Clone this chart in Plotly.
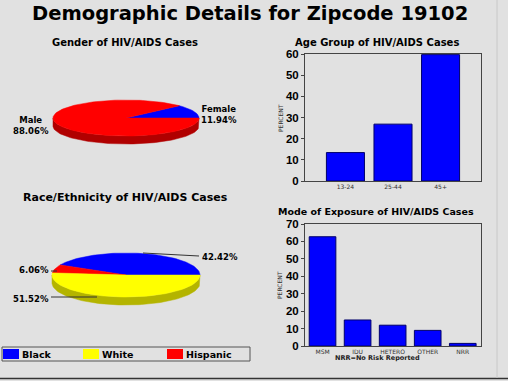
import math
import plotly.graph_objects as go

# ---------------- data ----------------
gender_labels = ["Female", "Male"]
gender_values = [11.94, 88.06]

race_labels = ["Black", "White", "Hispanic"]
race_values = [42.42, 51.52, 6.06]

age_groups = ["13-24", "25-44", "45+"]
age_values = [13.43, 26.87, 59.70]

exposure_modes = ["MSM", "IDU", "HETERO", "OTHER", "NRR"]
exposure_values = [62.69, 14.93, 11.94, 8.96, 1.49]

# ---------------- styles ----------------
W, H = 508, 381
BG = "#e1e1e1"
FONT = "DejaVu Sans"
FONT2 = "Liberation Sans"
colors = {"Female": "#0000ff", "Male": "#ff0000",
          "Black": "#0000ff", "White": "#ffff00", "Hispanic": "#ff0000"}
side_colors = {"Female": "#00009a", "Male": "#b00000",
               "Black": "#00009a", "White": "#b4b400", "Hispanic": "#b00000"}

fig = go.Figure()


def px_x(x):
    return x / W


def px_y(y):
    return 1 - y / H


def pie3d(labels, values, order, cx, cy, rx, ry, depth):
    """Draw a tilted pie on the pixel axes (xaxis3/yaxis3) from the data."""
    total = sum(values)
    vals = dict(zip(labels, values))
    start = 0.0
    wedges = []
    for lab in order:
        sweep = 360.0 * vals[lab] / total
        wedges.append((lab, start, start + sweep))
        start += sweep
    # sides (visible for the lower half: angles 180..360)
    for lab, a0, a1 in wedges:
        lo, hi = max(a0, 180.0), min(a1, 360.0)
        if hi <= lo:
            continue
        n = max(4, int((hi - lo) / 2))
        angs = [lo + (hi - lo) * i / n for i in range(n + 1)]
        xs = [cx + rx * math.cos(math.radians(a)) for a in angs]
        ys = [cy - ry * math.sin(math.radians(a)) for a in angs]
        xs2 = xs[::-1]
        ys2 = [y + depth for y in ys[::-1]]
        fig.add_trace(go.Scatter(x=xs + xs2 + [xs[0]], y=ys + ys2 + [ys[0]],
                                 mode="lines", fill="toself",
                                 fillcolor=side_colors[lab],
                                 line=dict(color=side_colors[lab], width=0.5),
                                 xaxis="x3", yaxis="y3", hoverinfo="skip",
                                 showlegend=False))
    # top faces
    for lab, a0, a1 in wedges:
        n = max(4, int((a1 - a0) / 2))
        angs = [a0 + (a1 - a0) * i / n for i in range(n + 1)]
        xs = [cx] + [cx + rx * math.cos(math.radians(a)) for a in angs] + [cx]
        ys = [cy] + [cy - ry * math.sin(math.radians(a)) for a in angs] + [cy]
        fig.add_trace(go.Scatter(x=xs, y=ys, mode="lines", fill="toself",
                                 fillcolor=colors[lab],
                                 line=dict(color=colors[lab], width=0.5),
                                 xaxis="x3", yaxis="y3", name=lab,
                                 hoverinfo="name", showlegend=False))


pie3d(gender_labels, gender_values, ["Female", "Male"], 126, 118, 73, 18, 8)
pie3d(race_labels, race_values, ["Black", "Hispanic", "White"], 126, 275, 74, 22, 8)

# ---------------- bars ----------------
bar_marker = dict(color="#0000ff", line=dict(color="#00006a", width=1))
fig.add_trace(go.Bar(x=age_groups, y=age_values, xaxis="x", yaxis="y",
                     marker=bar_marker, width=0.8, showlegend=False))
fig.add_trace(go.Bar(x=exposure_modes, y=exposure_values, xaxis="x2", yaxis="y2",
                     marker=bar_marker, width=0.76, showlegend=False))

ax_common = dict(showline=True, linecolor="#444444", linewidth=1, mirror=True,
                 showgrid=False, zeroline=False, fixedrange=True, automargin=False)
ytick_font = dict(family=FONT2, size=11.5, color="#000000", weight="bold")
xtick_font = dict(family=FONT, size=6, color="#333333")

fig.update_layout(
    width=W, height=H,
    margin=dict(l=0, r=0, t=0, b=0, pad=0),
    paper_bgcolor=BG, plot_bgcolor="rgba(0,0,0,0)",
    font=dict(family=FONT),
    xaxis=dict(domain=[px_x(305), px_x(481)], anchor="y", range=[-0.85, 2.85],
               tickfont=xtick_font, ticks="", **ax_common),
    yaxis=dict(domain=[px_y(181), px_y(54)], anchor="x", range=[0, 60],
               dtick=10, ticks="outside", ticklen=3, tickcolor="#444444",
               tickfont=ytick_font, **ax_common),
    xaxis2=dict(domain=[px_x(305), px_x(481)], anchor="y2", range=[-0.5, 4.52],
                tickfont=xtick_font, ticks="", **ax_common),
    yaxis2=dict(domain=[px_y(346), px_y(224)], anchor="x2", range=[0, 70],
                dtick=10, ticks="outside", ticklen=3, tickcolor="#444444",
                tickfont=ytick_font, **ax_common),
    xaxis3=dict(domain=[0, 1], anchor="y3", range=[0, W], visible=False,
                fixedrange=True, automargin=False),
    yaxis3=dict(domain=[0, 1], anchor="x3", range=[H, 0], visible=False,
                fixedrange=True, automargin=False),
)

# ---------------- texts ----------------
def txt(x, y, s, size, bold=True, xanchor="center", color="#000000",
        family=FONT, angle=0):
    fig.add_annotation(x=px_x(x), y=px_y(y), xref="paper", yref="paper",
                       text=s, showarrow=False, xanchor=xanchor, yanchor="middle",
                       textangle=angle,
                       font=dict(family=family, size=size, color=color,
                                 weight="bold" if bold else "normal"))

txt(250, 14, "Demographic Details for Zipcode 19102", 19.5)
txt(125, 42, "Gender of HIV/AIDS Cases", 10)
txt(377, 42, "Age Group of HIV/AIDS Cases", 10)
txt(125, 197, "Race/Ethnicity of HIV/AIDS Cases", 11)
txt(376, 211.5, "Mode of Exposure of HIV/AIDS Cases", 9.5)

txt(281, 118, "PERCENT", 6, bold=False, color="#333333", angle=-90)
txt(279, 285, "PERCENT", 6, bold=False, color="#333333", angle=-90)
txt(377, 358, "NRR=No Risk Reported", 6.5, color="#222222")

g = dict(zip(gender_labels, gender_values))
txt(51, 125, f"Male<br>{g['Male']:.2f}%", 8.5, xanchor="right")
txt(199, 114, f"Female<br>{g['Female']:.2f}%", 8.5, xanchor="left")

r = dict(zip(race_labels, race_values))
txt(200, 257, f"{r['Black']:.2f}%", 8.5, xanchor="left")
txt(51, 270, f"{r['Hispanic']:.2f}%", 8.5, xanchor="right")
txt(51, 299, f"{r['White']:.2f}%", 8.5, xanchor="right")

shapes = [
    dict(type="line", xref="paper", yref="paper", x0=px_x(143), y0=px_y(253),
         x1=px_x(199), y1=px_y(256), line=dict(color="#333333", width=1)),
    dict(type="line", xref="paper", yref="paper", x0=px_x(51), y0=px_y(271),
         x1=px_x(57), y1=px_y(271), line=dict(color="#333333", width=1)),
    dict(type="line", xref="paper", yref="paper", x0=px_x(51), y0=px_y(297),
         x1=px_x(97), y1=px_y(297), line=dict(color="#333333", width=1)),
    # legend frame
    dict(type="rect", xref="paper", yref="paper", x0=px_x(2), y0=px_y(361),
         x1=px_x(250), y1=px_y(347), line=dict(color="#555555", width=1)),
    # outer frame lines
    dict(type="line", xref="paper", yref="paper", x0=0, y0=px_y(378.5),
         x1=1, y1=px_y(378.5), line=dict(color="#333333", width=1.5)),
    dict(type="line", xref="paper", yref="paper", x0=px_x(497), y0=px_y(0),
         x1=px_x(497), y1=px_y(378), line=dict(color="#c8c8c8", width=1)),
]

# legend swatches + labels (Black, White, Hispanic)
legend_x = [3, 83, 167]
for lab, lx in zip(race_labels, legend_x):
    shapes.append(dict(type="rect", xref="paper", yref="paper",
                       x0=px_x(lx), y0=px_y(359), x1=px_x(lx + 16), y1=px_y(349),
                       fillcolor=colors[lab], line=dict(width=0)))
    txt(lx + 17, 354, lab, 9.5, xanchor="left")

fig.update_layout(shapes=shapes)

fig.write_html("out.html",
               config={"displayModeBar": False},
               post_script="document.body.style.margin='0';"
                           "document.body.style.background='#e1e1e1';")
